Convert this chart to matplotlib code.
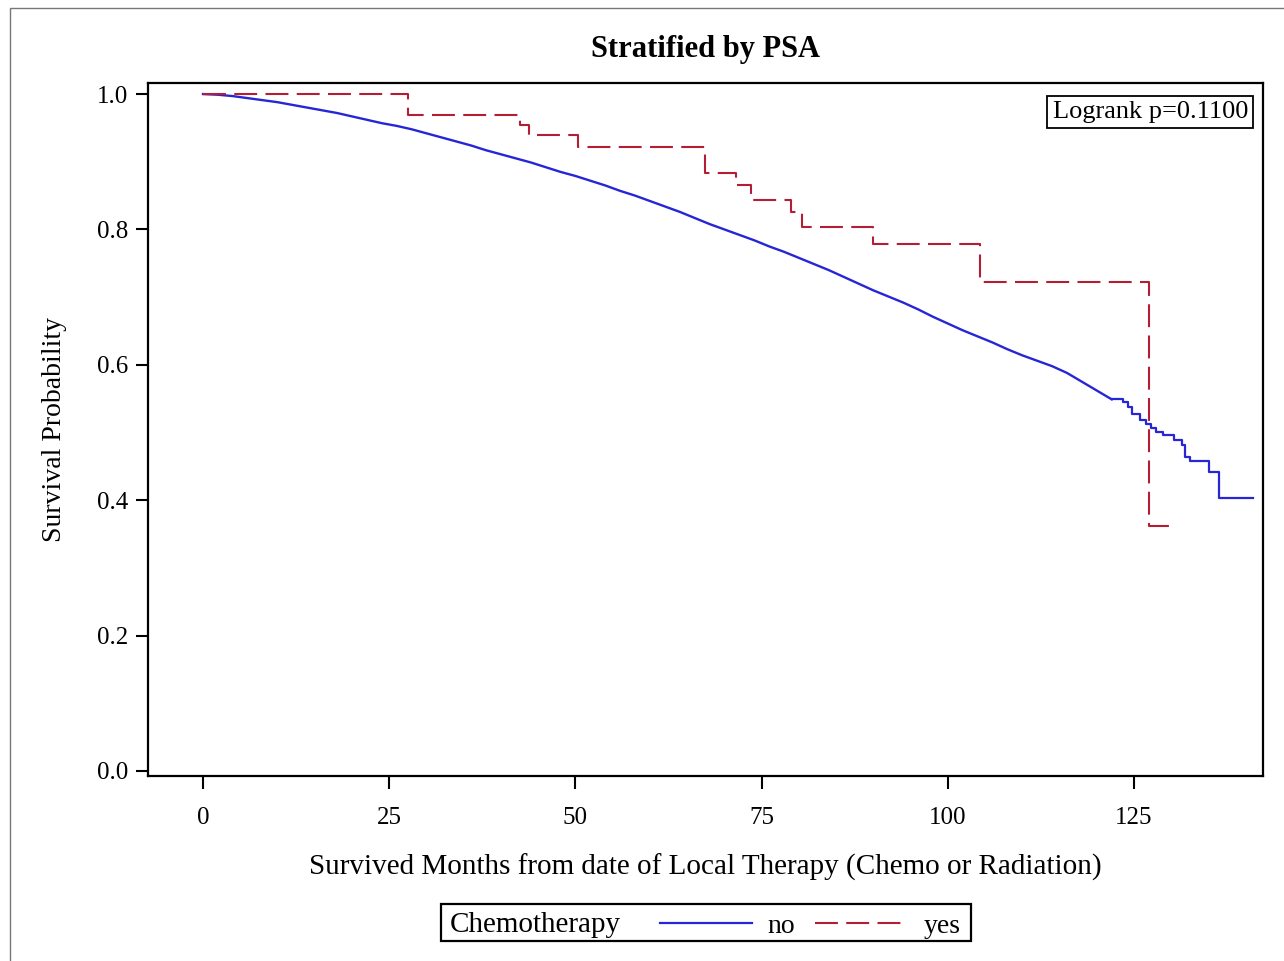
import numpy as np
import matplotlib
matplotlib.use("Agg")
from matplotlib import pyplot as plt
from matplotlib.lines import Line2D
from matplotlib.patches import Rectangle

# 数据部分
# Chemotherapy = no
t_no = [0, 2, 4, 6, 8, 10, 12, 14, 16, 18, 20, 22, 24, 26, 28, 30, 32, 34, 36, 38,
        40, 42, 44, 46, 48, 50, 52, 54, 56, 58, 60, 62, 64, 66, 68, 70, 72, 74, 76, 78,
        80, 82, 84, 86, 88, 90, 92, 94, 96, 98, 100, 102, 104, 106, 108, 110, 112, 114,
        116, 118, 120, 122, 123.5, 124.2, 124.7, 125.8, 126.6, 127.3, 128.0, 128.9,
        130.3, 131.4, 131.8, 132.5, 135.1, 136.4, 141.0]
s_no = [1.000, 0.999, 0.997, 0.994, 0.991, 0.988, 0.984, 0.980, 0.976, 0.972, 0.967,
        0.962, 0.957, 0.953, 0.948, 0.942, 0.936, 0.930, 0.924, 0.917, 0.911, 0.905,
        0.899, 0.892, 0.885, 0.879, 0.872, 0.865, 0.857, 0.850, 0.842, 0.834, 0.826,
        0.817, 0.808, 0.800, 0.792, 0.784, 0.775, 0.767, 0.758, 0.749, 0.740, 0.730,
        0.720, 0.710, 0.701, 0.692, 0.682, 0.671, 0.661, 0.651, 0.642, 0.633, 0.623,
        0.614, 0.606, 0.598, 0.588, 0.575, 0.562, 0.549, 0.545, 0.537, 0.528, 0.518,
        0.512, 0.507, 0.501, 0.496, 0.489, 0.481, 0.464, 0.458, 0.441, 0.404, 0.404]

# Chemotherapy = yes
t_yes = [0, 27.5, 42.5, 43.8, 50.3, 67.4, 71.5, 73.6, 78.9, 80.4, 89.9, 104.3, 127.0, 130.2]
s_yes = [1.000, 0.969, 0.954, 0.939, 0.922, 0.884, 0.865, 0.844, 0.826, 0.804, 0.779,
         0.723, 0.362, 0.362]

x_ticks = [0, 25, 50, 75, 100, 125]
y_ticks = [0.0, 0.2, 0.4, 0.6, 0.8, 1.0]

c_no = '#2626D6'
c_yes = '#B31E34'

plt.rcParams['font.family'] = ['Liberation Serif', 'DejaVu Serif']

fig = plt.figure(figsize=(12.84, 9.61), dpi=100)
ax = fig.add_axes([0.1153, 0.1925, 0.8683, 0.7211])

# many tiny KM steps in the body look smooth at this size; the tail has visible steps
k = t_no.index(122)
ax.plot(t_no[:k + 1], s_no[:k + 1], color=c_no, lw=1.7)
ax.plot(t_no[k:], s_no[k:], drawstyle='steps-post', color=c_no, lw=1.6)
ax.plot(t_yes, s_yes, drawstyle='steps-post', color=c_yes, lw=1.5, dashes=(11, 4))

ax.set_xlim(-7.38, 142.3)
ax.set_ylim(-0.0074, 1.0163)
ax.set_xticks(x_ticks)
ax.set_yticks(y_ticks)
ax.set_yticklabels(['%.1f' % v for v in y_ticks])
ax.tick_params(labelsize=18, length=9, width=1.5, pad=5)
ax.tick_params(axis='x', pad=13)
for sp in ax.spines.values():
    sp.set_linewidth(1.6)

ax.set_title('Stratified by PSA', fontsize=22, fontweight='bold', pad=19)
ax.set_xlabel('Survived Months from date of Local Therapy (Chemo or Radiation)', fontsize=21, labelpad=18)
ax.set_ylabel('Survival Probability', fontsize=20, labelpad=22)

ax.text(0.9865, 0.974, 'Logrank p=0.1100', transform=ax.transAxes, ha='right', va='top',
        fontsize=19, bbox=dict(boxstyle='square,pad=0.2', fc='white', ec='black', lw=1.3))

# legend below the plot
leg_h = [Line2D([], [], color=c_no, lw=1.6),
         Line2D([], [], color=c_yes, lw=1.5, dashes=(11, 4))]
fig.legend(leg_h, ['no', 'yes'], ncol=2, frameon=False, fontsize=20,
           loc='center left', bbox_to_anchor=(635/1284, 1 - 926/961),
           handlelength=3.3, columnspacing=0.72, handletextpad=0.58)
fig.text(450/1284, 1 - 925/961, 'Chemotherapy', fontsize=21, ha='left', va='center')
fig.add_artist(Rectangle((441/1284, 1 - 941/961), 530/1284, 37/961, transform=fig.transFigure,
                         fill=False, ec='black', lw=1.6))

# outer frame
fig.add_artist(Rectangle((10/1284, -0.05), 1.1, 1.05 - 8/961, transform=fig.transFigure,
                         fill=False, ec='#777777', lw=1.0))

fig.savefig('out.png', dpi=100)
